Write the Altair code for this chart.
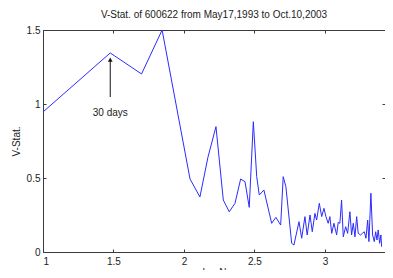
import altair as alt
import pandas as pd

# ---- data ----
log_n = [1.000, 1.477, 1.699, 1.845, 2.043, 2.113, 2.170, 2.227, 2.279, 2.321,
         2.362, 2.402, 2.433, 2.463, 2.492, 2.516, 2.534, 2.567, 2.622, 2.652,
         2.686, 2.704, 2.723, 2.764, 2.780, 2.816, 2.835, 2.858, 2.874, 2.894,
         2.910, 2.929, 2.941, 2.960, 2.977, 2.993, 3.007, 3.023, 3.035, 3.048,
         3.064, 3.083, 3.094, 3.106, 3.118, 3.130, 3.147, 3.161, 3.177, 3.189,
         3.201, 3.213, 3.225, 3.236, 3.253, 3.265, 3.279, 3.291, 3.303, 3.312,
         3.326, 3.338, 3.350, 3.360, 3.369, 3.378, 3.388, 3.397, 3.402]
v_stat = [0.946, 1.345, 1.203, 1.500, 0.493, 0.372, 0.640, 0.847, 0.351, 0.272,
          0.329, 0.493, 0.475, 0.302, 0.880, 0.509, 0.385, 0.419, 0.194, 0.234,
          0.182, 0.509, 0.441, 0.059, 0.047, 0.205, 0.093, 0.239, 0.115, 0.250,
          0.137, 0.261, 0.216, 0.329, 0.239, 0.295, 0.239, 0.194, 0.239, 0.126,
          0.194, 0.115, 0.200, 0.194, 0.351, 0.103, 0.171, 0.126, 0.272, 0.115,
          0.194, 0.103, 0.239, 0.126, 0.115, 0.126, 0.137, 0.093, 0.216, 0.070,
          0.397, 0.115, 0.070, 0.137, 0.081, 0.149, 0.059, 0.115, 0.036]

x_ticks = [1, 1.5, 2, 2.5, 3, 3.5]
y_ticks = [0, 0.5, 1, 1.5]

ann_x = [1.477]
ann_y_from = [1.047]
ann_y_to = [1.30]
ann_text_y = [0.94]
ann_text = ["30 days"]

title_text = "V-Stat. of 600622 from May17,1993 to Oct.10,2003"

df = pd.DataFrame({"LogN": log_n, "V": v_stat})
ann = pd.DataFrame({"x": ann_x, "y0": ann_y_from, "y1": ann_y_to,
                    "ty": ann_text_y, "label": ann_text})

W, H = 342, 222
FONT = "Liberation Sans"
AX = "#3a3a3a"

xs = alt.Scale(domain=[1, 3.426], nice=False, zero=False)
ys = alt.Scale(domain=[0, 1.5], nice=False, zero=False)

# main line with labelled axes
line = alt.Chart(df).mark_line(color="#2b2bff", strokeWidth=1, clip=True).encode(
    x=alt.X("LogN:Q", scale=xs, axis=alt.Axis(
        title="LogN", orient="bottom", values=x_ticks, format="~g",
        ticks=False, tickSize=0, domain=False, grid=False,
        labelPadding=4, titlePadding=1, labelFontSize=10, titleFontSize=10,
        titleFontWeight="normal", labelFont=FONT, titleFont=FONT,
        labelColor="#222", titleColor="#222")),
    y=alt.Y("V:Q", scale=ys, axis=alt.Axis(
        title="V-Stat.", orient="left", values=y_ticks, format="~g",
        ticks=False, tickSize=0, domain=False, grid=False,
        labelPadding=3, titlePadding=5, labelFontSize=10, titleFontSize=10,
        titleFontWeight="normal", labelFont=FONT, titleFont=FONT,
        labelColor="#222", titleColor="#222")),
)


def tick_axis(orient, off, vals):
    return alt.Axis(title="", orient=orient, offset=off, labels=False,
                    domain=False, grid=False, ticks=True, tickSize=3,
                    tickColor=AX, tickWidth=1, values=vals)


# inward ticks on bottom & left edges
ticks_a = alt.Chart(df).mark_line(opacity=0).encode(
    x=alt.X("LogN:Q", scale=xs, axis=tick_axis("top", -H, x_ticks)),
    y=alt.Y("V:Q", scale=ys, axis=tick_axis("right", -W, y_ticks)),
)
# inward ticks on top & right edges
ticks_b = alt.Chart(df).mark_line(opacity=0).encode(
    x=alt.X("LogN:Q", scale=xs, axis=tick_axis("bottom", -H, x_ticks)),
    y=alt.Y("V:Q", scale=ys, axis=tick_axis("left", -W, y_ticks)),
)

arrow = alt.Chart(ann).mark_rule(color="#111", strokeWidth=1).encode(
    x=alt.X("x:Q", axis=None), y=alt.Y("y0:Q", axis=None), y2="y1:Q")
head = alt.Chart(ann).mark_point(shape="triangle-up", filled=True, color="#111",
                                 size=22, opacity=1).encode(
    x=alt.X("x:Q", axis=None), y=alt.Y("y1:Q", axis=None))
label = alt.Chart(ann).mark_text(font=FONT, fontSize=10, color="#222",
                                 baseline="middle").encode(
    x=alt.X("x:Q", axis=None), y=alt.Y("ty:Q", axis=None), text="label:N")

chart = alt.layer(line, ticks_a, ticks_b, arrow, head, label).resolve_axis(
    x="independent", y="independent"
).properties(
    width=W, height=H,
    title=alt.TitleParams(title_text, fontSize=10, fontWeight="normal",
                          font=FONT, color="#222", offset=5),
    autosize=alt.AutoSizeParams(type="none"),
    padding={"left": 35, "top": 22, "right": 0, "bottom": 18},
).configure_view(stroke=AX, strokeWidth=1)

chart.save("out.html", embed_options={"renderer": "svg", "actions": False})
